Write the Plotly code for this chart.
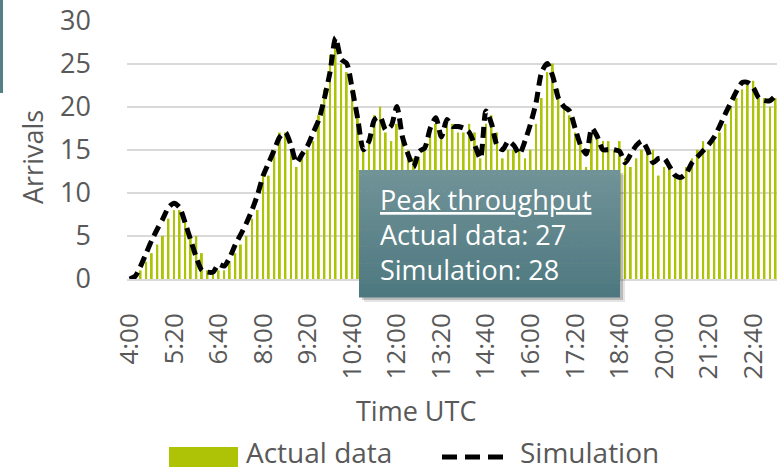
import plotly.graph_objects as go

# ---------------- data ----------------
time_slots = [
    "4:00", "4:10", "4:20", "4:30", "4:40", "4:50",
    "5:00", "5:10", "5:20", "5:30", "5:40", "5:50",
    "6:00", "6:10", "6:20", "6:30", "6:40", "6:50",
    "7:00", "7:10", "7:20", "7:30", "7:40", "7:50",
    "8:00", "8:10", "8:20", "8:30", "8:40", "8:50",
    "9:00", "9:10", "9:20", "9:30", "9:40", "9:50",
    "10:00", "10:10", "10:20", "10:30", "10:40", "10:50",
    "11:00", "11:10", "11:20", "11:30", "11:40", "11:50",
    "12:00", "12:10", "12:20", "12:30", "12:40", "12:50",
    "13:00", "13:10", "13:20", "13:30", "13:40", "13:50",
    "14:00", "14:10", "14:20", "14:30", "14:40", "14:50",
    "15:00", "15:10", "15:20", "15:30", "15:40", "15:50",
    "16:00", "16:10", "16:20", "16:30", "16:40", "16:50",
    "17:00", "17:10", "17:20", "17:30", "17:40", "17:50",
    "18:00", "18:10", "18:20", "18:30", "18:40", "18:50",
    "19:00", "19:10", "19:20", "19:30", "19:40", "19:50",
    "20:00", "20:10", "20:20", "20:30", "20:40", "20:50",
    "21:00", "21:10", "21:20", "21:30", "21:40", "21:50",
    "22:00", "22:10", "22:20", "22:30", "22:40", "22:50",
    "23:00", "23:10", "23:20",
]

tick_labels = ["4:00", "5:20", "6:40", "8:00", "9:20", "10:40", "12:00", "13:20",
               "14:40", "16:00", "17:20", "18:40", "20:00", "21:20", "22:40"]

actual_data = [
    0, 0, 1, 2, 3, 4, 5, 7, 8, 8,
    7, 5, 5, 3, 1, 1, 1, 1, 2, 3,
    4, 5, 7, 8, 12, 12, 15, 17, 17, 15,
    13, 14, 15, 16, 19, 22, 26, 27, 25, 24,
    22, 19, 15, 16, 19, 20, 17, 16, 18, 16,
    15, 14, 14, 15, 17, 18, 17, 18, 18, 17,
    17, 18, 17, 14, 18, 19, 17, 14, 15, 15,
    15, 14, 15, 18, 21, 24, 25, 22, 20, 19,
    17, 16, 13, 17, 17, 16, 16, 15, 16, 14,
    13, 14, 15, 15, 15, 12, 13, 13, 12, 12,
    13, 14, 15, 16, 15, 16, 17, 18, 20, 21,
    22, 23, 23, 21, 21, 20, 21,
]

simulation = [
    0, 0.3, 1.5, 3, 4.5, 5.8, 7, 8.3, 8.8, 8.3,
    6.5, 4.5, 2.5, 1, 0.8, 0.8, 1.7, 1.5, 2.5, 4,
    5.2, 6.5, 8, 9.8, 12, 13.5, 15, 16.5, 17, 15.5,
    13.5, 14.5, 15.5, 17, 18.5, 21, 24, 28, 25.5, 25,
    22, 18.5, 15, 16, 18.5, 18.8, 17.3, 17.8, 20, 16.5,
    14.5, 13, 14.8, 15.2, 17.5, 18.7, 16.5, 18.5, 17.7, 17.7,
    17.5, 17, 15.5, 14, 19.5, 18, 15.5, 15, 16, 15.5,
    14.5, 16, 18, 20.5, 24, 25, 23.5, 21, 20, 19.5,
    17.5, 15.5, 14.5, 17.5, 16.5, 15, 15, 15, 14.8, 13.5,
    14.5, 15.5, 16, 15, 13.5, 14, 14, 13, 12, 11.8,
    12.3, 13.5, 14.2, 14.9, 15.6, 16.5, 17.8, 19.2, 20.5, 21.8,
    22.8, 22.8, 22.2, 21, 20.7, 20.7, 21.3,
]

series_names = ["Actual data", "Simulation"]

# ---------------- styling / geometry ----------------
W, H = 777, 472
PL, PR, PT, PB = 127, 0, 20, 193
FONT = "Open Sans"
GRAY = "#595959"
GREEN = "#afc306"

plot_w = W - PL - PR
plot_h = H - PT - PB


def px(x):
    return (x - PL) / plot_w


def py(y):
    return (H - PB - y) / plot_h


fig = go.Figure()
fig.add_trace(go.Bar(
    x=time_slots, y=actual_data, name=series_names[0],
    marker=dict(color=GREEN, line=dict(width=0)),
    width=0.34, showlegend=False,
))
fig.add_trace(go.Scatter(
    x=time_slots, y=simulation, name=series_names[1], mode="lines",
    line=dict(color="black", width=5, dash="11px,6px", shape="spline", smoothing=0.7),
    showlegend=False,
))

shapes = []
annotations = []

# left-edge teal sliver (part of a neighbouring element)
shapes.append(dict(type="rect", xref="paper", yref="paper",
                   x0=px(0), x1=px(3), y0=py(0), y1=py(93),
                   fillcolor="#557f86", line=dict(width=0), layer="above"))

# annotation box: shadow + vertical gradient
bx0, bx1, by0, by1 = 359, 620, 170, 297
for off, op in [(5, 0.12), (3, 0.22)]:
    shapes.append(dict(type="rect", xref="paper", yref="paper",
                       x0=px(bx0 + off), x1=px(bx1 + off), y0=py(by0 + off), y1=py(by1 + off),
                       fillcolor=f"rgba(40,40,40,{op})", line=dict(width=0), layer="above"))
top_c = (112, 147, 152)
bot_c = (78, 120, 128)
n = 30
for k in range(n):
    t = k / (n - 1)
    c = tuple(round(top_c[j] + (bot_c[j] - top_c[j]) * t) for j in range(3))
    ya = by0 + (by1 - by0) * k / n
    yb = by0 + (by1 - by0) * (k + 1) / n
    shapes.append(dict(type="rect", xref="paper", yref="paper",
                       x0=px(bx0), x1=px(bx1), y0=py(ya), y1=py(yb + 0.6),
                       fillcolor=f"rgb{c}", line=dict(width=0), layer="above"))

peak_lines = [
    "<u>Peak throughput</u>",
    f"{series_names[0]}: {max(actual_data):g}",
    f"{series_names[1]}: {max(simulation):g}",
]
for line_txt, yc in zip(peak_lines, [199, 234, 269]):
    annotations.append(dict(xref="paper", yref="paper", x=px(378), y=py(yc),
                            xanchor="left", yanchor="middle", showarrow=False,
                            text=line_txt, font=dict(family=FONT, size=27, color="white")))

# axis titles
annotations.append(dict(xref="paper", yref="paper", x=px(32), y=py(157),
                        xanchor="center", yanchor="middle", showarrow=False, textangle=-90,
                        text="Arrivals", font=dict(family=FONT, size=27, color=GRAY)))
annotations.append(dict(xref="paper", yref="paper", x=px(416), y=py(410),
                        xanchor="center", yanchor="middle", showarrow=False,
                        text="Time UTC", font=dict(family=FONT, size=27, color=GRAY)))

# manual legend
shapes.append(dict(type="rect", xref="paper", yref="paper",
                   x0=px(169), x1=px(238), y0=py(447), y1=py(467),
                   fillcolor=GREEN, line=dict(width=0)))
annotations.append(dict(xref="paper", yref="paper", x=px(245), y=py(472),
                        xanchor="left", yanchor="bottom", showarrow=False, borderpad=0,
                        text=series_names[0], font=dict(family=FONT, size=28, color=GRAY)))
shapes.append(dict(type="line", xref="paper", yref="paper",
                   x0=px(442), x1=px(506), y0=py(457), y1=py(457),
                   line=dict(color="black", width=5, dash="15px,8px")))
annotations.append(dict(xref="paper", yref="paper", x=px(519), y=py(472),
                        xanchor="left", yanchor="bottom", showarrow=False, borderpad=0,
                        text=series_names[1], font=dict(family=FONT, size=28, color=GRAY)))

fig.update_layout(
    width=W, height=H, autosize=False,
    margin=dict(l=PL, r=PR, t=PT, b=PB, pad=0),
    paper_bgcolor="white", plot_bgcolor="white",
    bargap=0.6,
    showlegend=False,
    font=dict(family=FONT, color=GRAY),
    shapes=shapes, annotations=annotations,
    xaxis=dict(
        type="category", range=[-0.45, 116.25],
        tickmode="array", tickvals=tick_labels, ticktext=tick_labels,
        tickangle=-90, tickfont=dict(family=FONT, size=26, color=GRAY),
        showgrid=False, showline=True, linecolor="#d9d9d9", linewidth=1.5,
        ticks="", ticklabelstandoff=22, fixedrange=True,
    ),
    yaxis=dict(
        range=[0, 30.05], tickmode="linear", tick0=0, dtick=5,
        tickfont=dict(family=FONT, size=27, color=GRAY),
        showgrid=True, gridcolor="#d9d9d9", gridwidth=1.5,
        zeroline=False, showline=False, ticks="", ticklabelstandoff=35,
        fixedrange=True,
    ),
)

fig.write_html("out.html", config={"displayModeBar": False},
               post_script="document.body.style.margin='0';document.body.style.overflow='hidden';")
